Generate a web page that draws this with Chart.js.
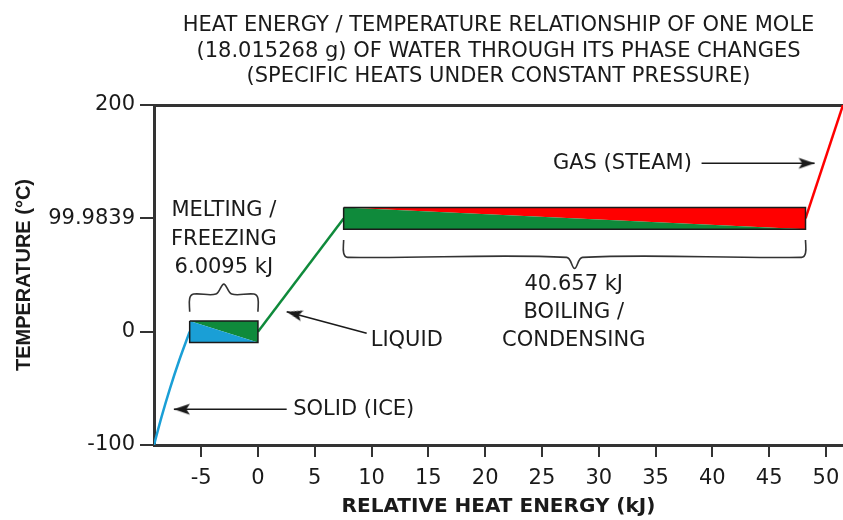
<!DOCTYPE html>
<html>
<head>
<meta charset="utf-8">
<script src="https://cdn.jsdelivr.net/npm/chart.js@4.4.0/dist/chart.umd.min.js"></script>
<style>
  html, body { margin: 0; padding: 0; background: #fff; }
  canvas { display: block; }
</style>
</head>
<body>
<canvas id="chart" width="843" height="520"></canvas>
<script>
// heat energy (kJ, zero = end of melting) against temperature (deg C)
var iceEnergy = [-9.15, -8.48, -7.74, -6.92, -6.0095];
var iceTemp = [-100, -75, -50, -25, 0];
var waterEnergy = [0, 7.5437];
var waterTemp = [0, 99.9839];
var steamEnergy = [48.2007, 51.5];
var steamTemp = [99.9839, 200];

// the two latent heat plateaus
var meltEnergy = [-6.0095, 0];
var meltTemp = 0;
var boilEnergy = [7.5437, 48.2007];
var boilTemp = 99.9839;

var xTicks = [-5, 0, 5, 10, 15, 20, 25, 30, 35, 40, 45, 50];
var yTicks = [-100, 0, 99.9839, 200];

var titleLines = [
  'HEAT ENERGY / TEMPERATURE RELATIONSHIP OF ONE MOLE',
  '(18.015268 g) OF WATER THROUGH ITS PHASE CHANGES',
  '(SPECIFIC HEATS UNDER CONSTANT PRESSURE)'
];
var xTitle = 'RELATIVE HEAT ENERGY (kJ)';
var yTitle = 'TEMPERATURE (\u00B0C)';

// labels, placed in data units
var notes = [
  { text: 'MELTING /', x: -3.0, y: 107 },
  { text: 'FREEZING', x: -3.0, y: 81.5 },
  { text: '6.0095 kJ', x: -3.0, y: 56.5 },
  { text: '40.657 kJ', x: 27.8, y: 42 },
  { text: 'BOILING /', x: 27.8, y: 16.5 },
  { text: 'CONDENSING', x: 27.8, y: -7.4 },
  { text: 'LIQUID', x: 13.1, y: -7.4 },
  { text: 'SOLID (ICE)', x: 3.1, y: -68.5, align: 'left' },
  { text: 'GAS (STEAM)', x: 38.2, y: 148.6, align: 'right' }
];
var arrows = [
  { from: [9.57, -1.4], to: [2.53, 17.6] },
  { from: [2.53, -68.5], to: [-7.4, -68.5] },
  { from: [39.05, 148.6], to: [49.0, 148.6] }
];
var braces = [
  { x0: -6.0095, x1: 0, end: 17.6, flat: 33.2, tip: 42 },
  { x0: 7.5437, x1: 48.2007, end: 80.9, flat: 65.6, tip: 55.9 }
];

var band = 9.5;
var ink = '#1a1a1a';
var blue = '#1a9fd6';
var green = '#0f8a3b';
var red = '#ff0000';
var sans = '"DejaVu Sans", sans-serif';

function pts(xs, ys) {
  return xs.map(function (v, i) { return { x: v, y: ys[i] }; });
}

function poly(list) {
  return list.map(function (p) { return { x: p[0], y: p[1] }; });
}

function bracePts(b) {
  var xm = (b.x0 + b.x1) / 2, r = 0.35, w = 0.7, dy = (b.flat - b.end) * 0.25;
  return poly([
    [b.x0, b.end], [b.x0, b.flat - dy], [b.x0 + r, b.flat], [xm - w, b.flat],
    [xm, b.tip], [xm + w, b.flat], [b.x1 - r, b.flat], [b.x1, b.flat - dy], [b.x1, b.end]
  ]);
}

// arrow head, pointing right with its tip in the middle
var head = document.createElement('canvas');
head.width = 36; head.height = 36;
(function () {
  var c = head.getContext('2d');
  c.fillStyle = ink;
  c.beginPath();
  c.moveTo(18, 18); c.lineTo(2, 12.5); c.lineTo(5.5, 18); c.lineTo(2, 23.5);
  c.closePath();
  c.fill();
})();

function tri(data, color) {
  return { data: data, fill: 'shape', backgroundColor: color, borderColor: 'rgba(0,0,0,0)',
    borderWidth: 0, pointRadius: 0, tension: 0, order: 3 };
}

function box(e, t) {
  return { data: poly([[e[0], t + band], [e[1], t + band], [e[1], t - band], [e[0], t - band], [e[0], t + band]]),
    fill: false, borderColor: ink, borderWidth: 1.5, pointRadius: 0, tension: 0, order: 2 };
}

var datasets = [
  { data: pts(iceEnergy, iceTemp), borderColor: blue, borderWidth: 2.5, pointRadius: 0,
    cubicInterpolationMode: 'monotone', fill: false, order: 5 },
  { data: pts(waterEnergy, waterTemp), borderColor: green, borderWidth: 2.5, pointRadius: 0, fill: false, order: 5 },
  { data: pts(steamEnergy, steamTemp), borderColor: red, borderWidth: 2.5, pointRadius: 0, fill: false, order: 5 },
  tri(poly([[meltEnergy[0], meltTemp + band], [meltEnergy[0], meltTemp - band], [meltEnergy[1], meltTemp - band]]), blue),
  tri(poly([[meltEnergy[0], meltTemp + band], [meltEnergy[1], meltTemp + band], [meltEnergy[1], meltTemp - band]]), green),
  tri(poly([[boilEnergy[0], boilTemp + band], [boilEnergy[0], boilTemp - band], [boilEnergy[1], boilTemp - band]]), green),
  tri(poly([[boilEnergy[0], boilTemp + band], [boilEnergy[1], boilTemp + band], [boilEnergy[1], boilTemp - band]]), red),
  box(meltEnergy, meltTemp),
  box(boilEnergy, boilTemp)
];

braces.forEach(function (b) {
  datasets.push({ data: bracePts(b), borderColor: '#333', borderWidth: 1.6, pointRadius: 0,
    tension: 0.35, fill: false, order: 1 });
});

arrows.forEach(function (a) {
  datasets.push({
    data: poly([a.from, a.to]), borderColor: ink, borderWidth: 1.6, fill: false, order: 1,
    pointRadius: [0, 4], pointStyle: head,
    rotation: function (ctx) {
      var sx = ctx.chart.scales.x, sy = ctx.chart.scales.y;
      var dx = sx.getPixelForValue(a.to[0]) - sx.getPixelForValue(a.from[0]);
      var dy = sy.getPixelForValue(a.to[1]) - sy.getPixelForValue(a.from[1]);
      return Math.atan2(dy, dx) * 180 / Math.PI;
    }
  });
});

var notesPlugin = {
  id: 'notes',
  afterDatasetsDraw: function (chart) {
    var ctx = chart.ctx, sx = chart.scales.x, sy = chart.scales.y;
    ctx.save();
    ctx.font = '21px ' + sans;
    ctx.fillStyle = ink;
    ctx.textBaseline = 'middle';
    notes.forEach(function (n) {
      ctx.textAlign = n.align || 'center';
      ctx.fillText(n.text, sx.getPixelForValue(n.x), sy.getPixelForValue(n.y));
    });
    ctx.restore();
  }
};

new Chart(document.getElementById('chart'), {
  type: 'line',
  data: { datasets: datasets },
  plugins: [notesPlugin],
  options: {
    responsive: false,
    devicePixelRatio: 1,
    animation: false,
    events: [],
    layout: { autoPadding: false, padding: 0 },
    plugins: {
      legend: { display: false },
      tooltip: { enabled: false },
      title: {
        display: true, text: titleLines, fullSize: false, color: ink,
        font: { family: sans, size: 21, weight: 'normal', lineHeight: 1.215 },
        padding: { top: 13, bottom: 15.5 }
      }
    },
    scales: {
      x: {
        type: 'linear', min: -9.15, max: 51.5,
        afterBuildTicks: function (s) { s.ticks = xTicks.map(function (v) { return { value: v }; }); },
        afterFit: function (s) { s.height = 75; s.paddingLeft = 0; s.paddingRight = 0; },
        ticks: { color: ink, font: { family: sans, size: 21 }, padding: 9, maxRotation: 0,
          callback: function (v) { return String(v); } },
        grid: { drawOnChartArea: false, drawTicks: true, tickLength: 12, lineWidth: 2, color: '#333' },
        border: { display: true, color: '#333', width: 3 },
        title: { display: true, text: xTitle, color: ink, padding: { top: 0, bottom: 1 },
          font: { family: sans, size: 20, weight: 'bold' } }
      },
      x2: {
        type: 'linear', position: 'top', min: -9.15, max: 51.5,
        afterFit: function (s) { s.height = 0; s.paddingLeft = 0; s.paddingRight = 0; },
        ticks: { display: false },
        grid: { display: false, drawTicks: false },
        border: { display: true, color: '#333', width: 3 }
      },
      y: {
        type: 'linear', min: -100, max: 200,
        afterBuildTicks: function (s) { s.ticks = yTicks.map(function (v) { return { value: v }; }); },
        afterFit: function (s) { s.width = 154; },
        ticks: { color: ink, font: { family: sans, size: 21 }, padding: 5,
          callback: function (v) { return String(v); } },
        grid: { drawOnChartArea: false, drawTicks: true, tickLength: 14, lineWidth: 2, color: '#333' },
        border: { display: true, color: '#333', width: 3 },
        title: { display: true, text: yTitle, color: ink, padding: { top: 12, bottom: 0 },
          font: { family: '"Liberation Sans", Arial, sans-serif', size: 20, weight: 'bold' } }
      }
    }
  }
});
</script>
</body>
</html>
